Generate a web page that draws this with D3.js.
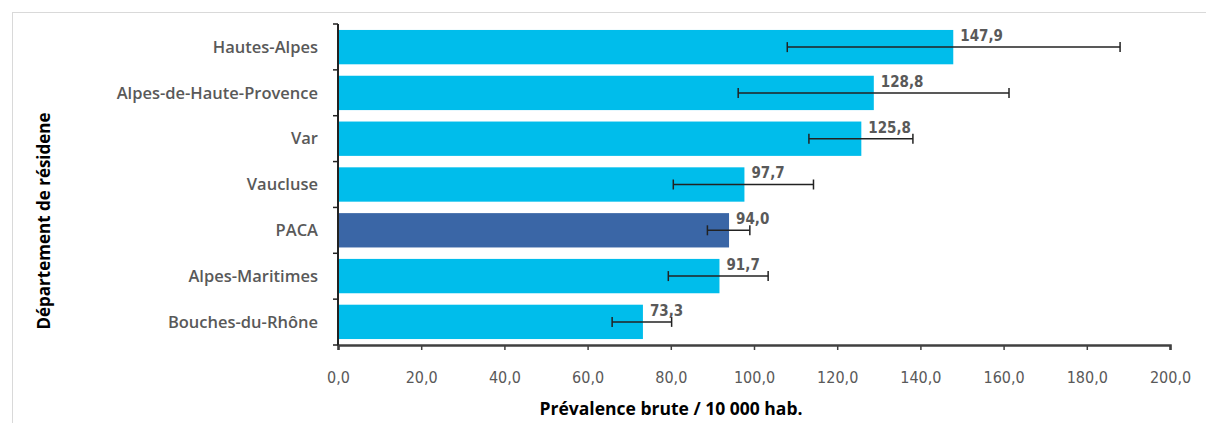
<!DOCTYPE html>
<html><head><meta charset="utf-8">
<script src="https://cdn.jsdelivr.net/npm/d3@7"></script>
<style>body{margin:0;background:#fff}svg{display:block}</style>
</head><body>
<svg id="c" width="1206" height="423"></svg>
<script>
const categories = ["Hautes-Alpes","Alpes-de-Haute-Provence","Var","Vaucluse","PACA","Alpes-Maritimes","Bouches-du-Rhône"];
const values = [147.9,128.8,125.8,97.7,94.0,91.7,73.3];
const lower = [108.0,96.2,113.2,80.6,88.8,79.4,65.9];
const upper = [188.0,161.3,138.2,114.3,99.0,103.4,80.2];
const xTicks = [0,20,40,60,80,100,120,140,160,180,200];
const highlight = "PACA";

const svg = d3.select("#c");
const W = 1206, H = 423;
const m = {left:338, right:36, top:24, bottom:78};
const fmt = v => v.toFixed(1).replace(".", ",");
const narrow = "'DejaVu Sans Condensed','DejaVu Sans',sans-serif";

svg.append("rect").attr("x",12.5).attr("y",12.5).attr("width",1200).attr("height",420)
  .attr("fill","none").attr("stroke","#d9d9d9");

const x = d3.scaleLinear().domain([0,200]).range([m.left, W - m.right]);
const y = d3.scaleBand().domain(categories).range([m.top, H - m.bottom]).paddingInner(0.25).paddingOuter(0.13);

const g = svg.append("g");
g.selectAll("rect.bar").data(categories).join("rect")
  .attr("x", x(0)).attr("y", d => y(d))
  .attr("width", (d,i) => x(values[i]) - x(0))
  .attr("height", y.bandwidth())
  .attr("fill", d => d === highlight ? "#3a66a6" : "#00bdeb");

// error bars
const eb = g.selectAll("g.eb").data(categories).join("g");
eb.append("line")
  .attr("x1",(d,i)=>x(lower[i])).attr("x2",(d,i)=>x(upper[i]))
  .attr("y1",d=>y(d)+y.bandwidth()/2).attr("y2",d=>y(d)+y.bandwidth()/2)
  .attr("stroke","#222").attr("stroke-width",1.5);
[lower, upper].forEach(arr => {
  eb.append("line")
    .attr("x1",(d,i)=>x(arr[i])).attr("x2",(d,i)=>x(arr[i]))
    .attr("y1",d=>y(d)+y.bandwidth()/2-5).attr("y2",d=>y(d)+y.bandwidth()/2+5)
    .attr("stroke","#222").attr("stroke-width",1.5);
});

// value labels
g.selectAll("text.val").data(categories).join("text")
  .attr("x",(d,i)=>x(values[i])+7).attr("y",d=>y(d)+11)
  .attr("font-family",narrow).attr("font-stretch","condensed")
  .attr("font-size",15).attr("font-weight","bold").attr("fill","#595959")
  .text((d,i)=>fmt(values[i]));

// x axis
const xa = svg.append("g").attr("transform",`translate(0,${H-m.bottom})`)
  .call(d3.axisBottom(x).tickValues(xTicks).tickSize(5).tickFormat(fmt));
xa.select(".domain").attr("stroke","#404040").attr("stroke-width",2.5);
xa.selectAll(".tick line").attr("stroke","#404040").attr("stroke-width",1.5);
xa.selectAll(".tick text").attr("dy",0).attr("y",38)
  .attr("font-family",narrow).attr("font-stretch","condensed")
  .attr("font-size",16).attr("fill","#595959");

// y axis with ticks at band boundaries
const yg = svg.append("g");
yg.append("line").attr("x1",m.left).attr("x2",m.left).attr("y1",m.top).attr("y2",H-m.bottom)
  .attr("stroke","#222").attr("stroke-width",2);
const bounds = d3.range(categories.length+1).map(i => m.top + i*(H-m.bottom-m.top)/categories.length);
yg.selectAll("line.t").data(bounds).join("line")
  .attr("x1",m.left-5).attr("x2",m.left).attr("y1",d=>d).attr("y2",d=>d)
  .attr("stroke","#222").attr("stroke-width",1.5);
yg.selectAll("text").data(categories).join("text")
  .attr("x",m.left-20).attr("y",d=>y(d)+y.bandwidth()/2).attr("dy","0.35em")
  .attr("text-anchor","end")
  .attr("font-family","'Open Sans',sans-serif").attr("font-size",16.5).attr("font-weight",600)
  .attr("fill","#595959").text(d=>d);

// titles
svg.append("text").attr("x",671).attr("y",415).attr("text-anchor","middle")
  .attr("font-family","'Open Sans',sans-serif").attr("font-weight","bold")
  .attr("font-size",17.5).attr("fill","#000").text("Prévalence brute / 10 000 hab.");
svg.append("text").attr("transform",`translate(50,221) rotate(-90)`)
  .attr("text-anchor","middle")
  .attr("font-family","'Open Sans',sans-serif").attr("font-weight","bold")
  .attr("font-size",17).attr("fill","#000").text("Département de résidene");
</script>
</body></html>
